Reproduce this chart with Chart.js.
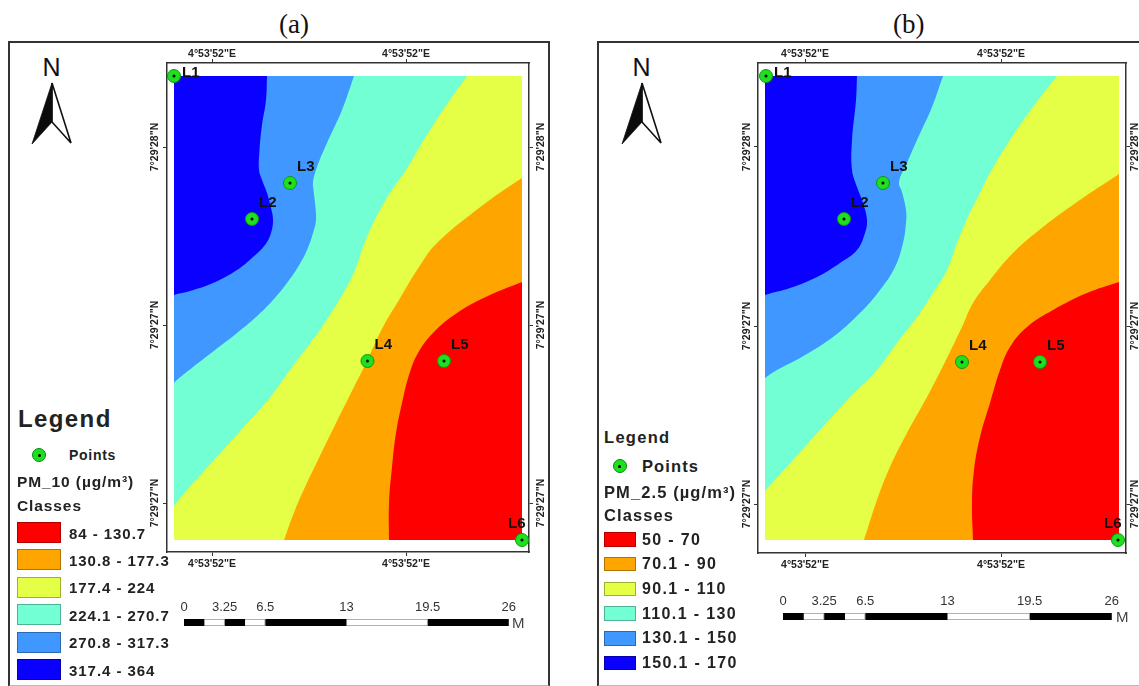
<!DOCTYPE html>
<html>
<head>
<meta charset="utf-8">
<title>PM maps</title>
<script src="https://cdn.jsdelivr.net/npm/chart.js@4/dist/chart.umd.min.js"></script>
<style>
  html, body { margin: 0; padding: 0; background: #fff; overflow: hidden; width: 1139px; height: 686px; }
  body { position: relative; font-family: "Liberation Sans", Arial, sans-serif; color: #222; }
  canvas { position: absolute; }
  .frame { position: absolute; border: 2px solid #333; border-bottom: 2px solid #bbb; box-sizing: border-box; }
  .txt { position: absolute; white-space: nowrap; transform: translateY(-50%); font-weight: bold; line-height: 1; }
  .swatch { position: absolute; box-sizing: border-box; border: 1px solid rgba(0,0,0,0.3); }
  .dot { position: absolute; box-sizing: border-box; border-radius: 50%; background: #1fe01f; border: 1px solid #0a8a0a; }
  .dot i { position: absolute; left: 50%; top: 50%; width: 3px; height: 3px; margin: -1.5px; border-radius: 50%; background: #000; }
  svg { position: absolute; }
</style>
</head>
<body>
<script>
// Map units: origin at the SW corner of the interpolated surface
const classColors = ["#ff0000", "#ffa500", "#e4ff45", "#73ffd4", "#3f97ff", "#0a00ff"];
const pointNames = ["L1", "L2", "L3", "L4", "L5", "L6"];

// (a) PM_10
const pm10Classes = ["84 - 130.7", "130.8 - 177.3", "177.4 - 224", "224.1 - 270.7", "270.8 - 317.3", "317.4 - 364"];
const pm10Points = [[0, 464], [78, 321], [116, 357], [193.5, 179], [270, 179], [348, 0]];
const pm10Red = [[348, 258], [316, 245], [283, 227], [259, 207], [244, 187], [235, 165], [228, 137], [222, 107], [218, 73], [215, 37], [215, 0]];
const pm10Orange = [[348, 362], [313, 338], [263, 297], [245, 273], [225, 240], [209, 213], [192, 177], [175, 143], [162, 117], [144, 80], [131, 53], [121, 30], [110, 0]];
const pm10Yellow = [[293, 464], [269, 430], [248, 397], [232, 370], [218, 350], [206, 330], [196, 310], [188, 290], [181, 270], [171, 250], [159, 230], [146, 210], [131, 190], [116, 170], [94, 140], [67, 110], [40, 80], [13, 50], [0, 34], [0, 33], [0, 0]];
const pm10Cyan = [[180, 464], [168, 430], [153, 397], [143, 373], [139, 358], [139.5, 350], [141, 337], [142, 320], [139, 307], [133, 290], [124, 273], [113, 257], [99, 240], [82, 223], [63, 207], [41, 190], [19, 173], [4, 161], [0, 157], [0, 156], [0, 0]];
const pm10LightBlue = [[93, 464], [92, 440], [88, 415], [85.5, 390], [85, 370], [88, 360], [93, 347], [97, 332], [99, 320], [97, 307], [91, 295], [79, 283], [63, 270], [39, 257], [16, 249], [0, 245], [0, 244], [0, 0]];
const pm10Blue = [[0, 464], [0, 0]];

// (b) PM_2.5
const pm25Classes = ["50 - 70", "70.1 - 90", "90.1 - 110", "110.1 - 130", "130.1 - 150", "150.1 - 170"];
const pm25Points = [[1, 464], [79, 321], [118, 357], [197, 178], [275, 178], [353, 0]];
const pm25Red = [[354, 258], [322, 247], [288, 230], [262, 213], [245, 193], [235, 170], [225, 137], [215, 103], [209, 70], [207, 37], [208, 0]];
const pm25Orange = [[354, 366], [312, 338], [278, 313], [248, 287], [225, 260], [208, 237], [197, 213], [176, 170], [162, 143], [142, 107], [125, 73], [112, 40], [99, 0]];
const pm25Yellow = [[292, 464], [268, 433], [245, 400], [225, 367], [215, 347], [203, 323], [192, 297], [182, 270], [168, 247], [152, 223], [132, 197], [112, 170], [85, 143], [55, 110], [28, 80], [0, 49], [0, 48], [0, 0]];
const pm25Cyan = [[178, 464], [167, 433], [152, 400], [142, 377], [134, 358], [137, 348], [141, 330], [141, 317], [138, 297], [130, 273], [115, 250], [95, 227], [68, 203], [35, 182], [12, 170], [0, 162], [0, 161], [0, 0]];
const pm25LightBlue = [[92, 464], [91, 440], [87, 400], [87, 370], [92, 353], [98, 337], [102, 320], [100, 307], [92, 290], [75, 277], [52, 263], [25, 252], [0, 245], [0, 244], [0, 0]];
const pm25Blue = [[0, 464], [0, 0]];

// graticule ticks
const lonTickLabel = "4°53'52\"E";
const latTickLabels = ["7°29'27\"N", "7°29'27\"N", "7°29'28\"N"];
const pm10LonTicks = [38, 232];
const pm25LonTicks = [40, 236];
const pm10LatTicks = [37, 215, 393];
const pm25LatTicks = [36, 214, 393];

// scale bar
const scaleTicks = [0, 3.25, 6.5, 13, 19.5, 26];
const scaleSegments = [1.625, 1.625, 1.625, 1.625, 6.5, 6.5, 6.5];

// L1..L6 text next to the points
const pointLabels = {
  id: "pointLabels",
  afterDatasetsDraw(chart) {
    const { ctx } = chart;
    const meta = chart.getDatasetMeta(1);
    ctx.save();
    ctx.font = "bold 15px 'Liberation Sans'";
    ctx.fillStyle = "#111";
    ctx.textBaseline = "middle";
    meta.data.forEach((pt, i) => {
      let dx = 7, dy = -16;
      if (i === 0) { dx = 8; dy = -3; }
      if (i === 5) { dx = -14; dy = -16; }
      ctx.fillText(pointNames[i], pt.x + dx, pt.y + dy);
    });
    ctx.restore();
  }
};

function toXY(list) {
  return list.map(p => ({ x: p[0], y: p[1] }));
}

function axisOpts(position, min, max, ticks, labelFn, size, extra) {
  const horizontal = position === "top" || position === "bottom";
  return {
    type: "linear",
    axis: horizontal ? "x" : "y",
    position: position,
    min: min,
    max: max,
    afterBuildTicks: s => { s.ticks = ticks.map(v => ({ value: v })); },
    afterFit: s => { if (horizontal) s.height = size; else s.width = size; },
    border: { display: true, color: "#333", width: 1.5 },
    grid: { drawOnChartArea: false, drawTicks: true, tickLength: 4, tickColor: "#333", tickWidth: 1 },
    ticks: Object.assign({
      autoSkip: false,
      color: "#222",
      padding: 1,
      font: { family: "'Liberation Sans'", size: 10.5, weight: "bold" },
      callback: labelFn,
    }, extra || {}),
  };
}

function makeMap(cfg) {
  const canvas = document.createElement("canvas");
  canvas.width = cfg.w;
  canvas.height = cfg.h;
  canvas.style.left = cfg.left + "px";
  canvas.style.top = cfg.top + "px";
  document.body.appendChild(canvas);

  const band = (data, color) => ({
    data: toXY(data),
    backgroundColor: color,
    borderWidth: 0,
    pointRadius: 0,
    tension: 0.4,
    fill: { value: cfg.xEnd },
  });
  const lonLabel = () => lonTickLabel;
  const latLabel = (v, i) => latTickLabels[i];
  const latRot = { minRotation: 90, maxRotation: 90, crossAlign: "center" };

  return new Chart(canvas, {
    type: "line",
    data: {
      datasets: [
        // first dataset is painted last
        { data: toXY(cfg.points), showLine: false, pointRadius: 1.5, pointBackgroundColor: "#000", pointBorderWidth: 0, clip: false },
        { data: toXY(cfg.points), showLine: false, pointRadius: 6.5, pointBackgroundColor: "#1fe01f", pointBorderColor: "#0c9a0c", pointBorderWidth: 1, clip: false },
        band(cfg.bands[0], classColors[0]),
        band(cfg.bands[1], classColors[1]),
        band(cfg.bands[2], classColors[2]),
        band(cfg.bands[3], classColors[3]),
        band(cfg.bands[4], classColors[4]),
        band(cfg.bands[5], classColors[5]),
      ],
    },
    plugins: [pointLabels],
    options: {
      indexAxis: "y",
      responsive: false,
      animation: false,
      events: [],
      layout: { padding: 0 },
      plugins: { legend: { display: false }, tooltip: { enabled: false } },
      scales: {
        x: axisOpts("bottom", cfg.xMin, cfg.xMax, cfg.lonTicks, lonLabel, cfg.pad.bottom, { padding: 2 }),
        x2: axisOpts("top", cfg.xMin, cfg.xMax, cfg.lonTicks, lonLabel, cfg.pad.top, { padding: -1 }),
        y: axisOpts("left", cfg.yMin, cfg.yMax, cfg.latTicks, latLabel, cfg.pad.left, Object.assign({}, latRot, { padding: cfg.latPadLeft })),
        y2: axisOpts("right", cfg.yMin, cfg.yMax, cfg.latTicks, latLabel, cfg.pad.right, Object.assign({}, latRot, { padding: cfg.latPadRight })),
      },
    },
  });
}

function makeScaleBar(cfg) {
  const canvas = document.createElement("canvas");
  canvas.width = cfg.w;
  canvas.height = cfg.h;
  canvas.style.left = cfg.left + "px";
  canvas.style.top = cfg.top + "px";
  document.body.appendChild(canvas);
  new Chart(canvas, {
    type: "bar",
    data: {
      labels: ["bar"],
      datasets: scaleSegments.map((v, i) => ({
        data: [v],
        backgroundColor: i % 2 ? "#fff" : "#000",
        borderColor: i % 2 ? "#999" : "#000",
        borderWidth: 1,
        barPercentage: 1,
        categoryPercentage: 1,
      })),
    },
    options: {
      indexAxis: "y",
      responsive: false,
      animation: false,
      events: [],
      layout: { padding: { left: cfg.padLeft, right: cfg.padRight, top: 0, bottom: 1 } },
      plugins: { legend: { display: false }, tooltip: { enabled: false } },
      scales: {
        x: {
          type: "linear",
          position: "top",
          stacked: true,
          min: 0,
          max: 26,
          afterBuildTicks: s => { s.ticks = scaleTicks.map(v => ({ value: v })); },
          afterFit: s => { s.height = 21; },
          border: { display: false },
          grid: { display: false, drawTicks: false },
          ticks: {
            autoSkip: false,
            maxRotation: 0,
            padding: 4,
            color: "#333",
            font: { family: "'Liberation Sans'", size: 13 },
            callback: v => String(v),
          },
        },
        y: { display: false, stacked: true },
      },
    },
  });
}

function addText(text, x, y, css) {
  const d = document.createElement("div");
  d.className = "txt";
  d.textContent = text;
  d.style.left = x + "px";
  d.style.top = y + "px";
  Object.assign(d.style, css || {});
  document.body.appendChild(d);
  return d;
}

function addFrame(left, top, w, h) {
  const f = document.createElement("div");
  f.className = "frame";
  f.style.cssText = `left:${left}px;top:${top}px;width:${w}px;height:${h}px`;
  document.body.appendChild(f);
}

function addNorth(cx) {
  addText("N", cx - 9.5, 67, { fontWeight: "normal", fontSize: "25px", color: "#111" });
  const s = document.createElementNS("http://www.w3.org/2000/svg", "svg");
  s.setAttribute("width", 44);
  s.setAttribute("height", 66);
  s.style.left = (cx - 22) + "px";
  s.style.top = "81px";
  s.innerHTML = '<path d="M22 2 L41 62 L22 41 Z" fill="#fff" stroke="#111" stroke-width="1.6"/>' +
    '<path d="M22 2 L2 63 L22 41 Z" fill="#0b0b0b" stroke="#111" stroke-width="0.8"/>';
  document.body.appendChild(s);
}

function addLegend(cfg) {
  addText("Legend", cfg.x + cfg.titleDx, cfg.titleY, { fontSize: cfg.titleSize, letterSpacing: cfg.titleSpacing });
  const dot = document.createElement("div");
  dot.className = "dot";
  dot.style.cssText = `left:${cfg.dotX - 7}px;top:${cfg.pointsY - 7}px;width:14px;height:14px`;
  dot.innerHTML = "<i></i>";
  document.body.appendChild(dot);
  addText("Points", cfg.pointsX, cfg.pointsY, { fontSize: cfg.pointsSize, letterSpacing: cfg.pointsSpacing });
  const fs = { fontSize: cfg.fontSize, letterSpacing: cfg.spacing };
  addText(cfg.name, cfg.x, cfg.nameY, fs);
  addText("Classes", cfg.x, cfg.classesY, fs);
  cfg.classes.forEach((label, i) => {
    const y = cfg.rowY + i * cfg.rowStep;
    const sw = document.createElement("div");
    sw.className = "swatch";
    sw.style.cssText = `left:${cfg.x}px;top:${y - cfg.swatchH / 2}px;width:${cfg.swatchW}px;height:${cfg.swatchH}px;background:${classColors[i]}`;
    document.body.appendChild(sw);
    addText(label, cfg.rowX, y, { fontSize: cfg.rowSize, letterSpacing: cfg.rowSpacing });
  });
}

const serif = { fontFamily: "'Liberation Serif'", fontWeight: "normal", fontSize: "27px", color: "#111" };
addText("(a)", 279, 24, serif);
addText("(b)", 893, 24, serif);

addFrame(8, 41, 542, 646);
addFrame(597, 41, 600, 646);
addNorth(52);
addNorth(642);

makeMap({
  left: 130, top: 44, w: 418, h: 540,
  pad: { left: 37, right: 19, top: 19, bottom: 32 },
  xMin: -7, xMax: 355, yMin: -12, yMax: 477, xEnd: 348,
  latPadLeft: -16, latPadRight: -16,
  lonTicks: pm10LonTicks, latTicks: pm10LatTicks,
  points: pm10Points,
  bands: [pm10Red, pm10Orange, pm10Yellow, pm10Cyan, pm10LightBlue, pm10Blue],
});
makeMap({
  left: 720, top: 44, w: 440, h: 540,
  pad: { left: 38, right: 34, top: 19, bottom: 31 },
  xMin: -7, xMax: 361, yMin: -13, yMax: 477, xEnd: 354,
  latPadLeft: -17, latPadRight: -19,
  lonTicks: pm25LonTicks, latTicks: pm25LatTicks,
  points: pm25Points,
  bands: [pm25Red, pm25Orange, pm25Yellow, pm25Cyan, pm25LightBlue, pm25Blue],
});

makeScaleBar({ left: 170, top: 598, w: 350, h: 29, padLeft: 14, padRight: 10 });
makeScaleBar({ left: 769, top: 592, w: 354, h: 29, padLeft: 14, padRight: 10 });
const gray = { fontWeight: "normal", fontSize: "15px", color: "#444" };
addText("M", 512, 622, gray);
addText("M", 1116, 616, gray);

addLegend({
  x: 17, titleDx: 1, titleY: 419, titleSize: "24px", titleSpacing: "1.4px",
  dotX: 39, pointsX: 69, pointsY: 455, pointsSize: "14px", pointsSpacing: "0.7px",
  nameY: 482, classesY: 506, name: "PM_10 (µg/m³)", fontSize: "15.5px", spacing: "0.9px",
  classes: pm10Classes, swatchW: 44, swatchH: 21, rowY: 532.5, rowStep: 27.4,
  rowX: 69, rowSize: "15px", rowSpacing: "0.95px",
});
addLegend({
  x: 604, titleDx: 0, titleY: 437, titleSize: "16.5px", titleSpacing: "1.3px",
  dotX: 619.5, pointsX: 642, pointsY: 466, pointsSize: "16.5px", pointsSpacing: "1.1px",
  nameY: 492, classesY: 515, name: "PM_2.5 (µg/m³)", fontSize: "16.5px", spacing: "1.1px",
  classes: pm25Classes, swatchW: 32, swatchH: 14.5, rowY: 539.5, rowStep: 24.7,
  rowX: 642, rowSize: "16px", rowSpacing: "1.35px",
});
</script>
</body>
</html>
